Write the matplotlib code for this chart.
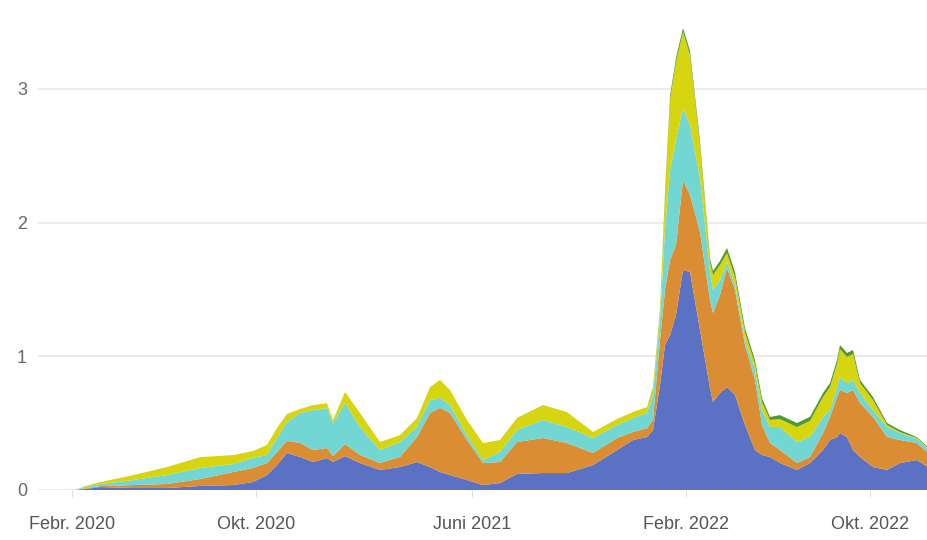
import matplotlib
matplotlib.use("Agg")
import matplotlib.pyplot as plt

# x positions along the time axis (chart units)
t = [40, 75, 85, 100, 133, 167, 200, 233, 253, 267, 277, 287, 300, 313, 327, 333, 345,
     360, 380, 400, 417, 430, 440, 450, 467, 483, 500, 517, 543, 567, 593, 617, 633,
     647, 653, 660, 665, 670, 676, 683, 690, 700, 710, 713, 720, 727, 735, 745, 755,
     762, 770, 780, 797, 810, 823, 830, 837, 840, 847, 853, 860, 873, 887, 900, 917, 928]

blue = [0, 0, 0.007, 0.022, 0.015, 0.015, 0.030, 0.037, 0.060, 0.112, 0.187, 0.277, 0.247,
        0.209, 0.239, 0.209, 0.254, 0.202, 0.150, 0.172, 0.209, 0.172, 0.135, 0.112, 0.075,
        0.037, 0.052, 0.120, 0.127, 0.127, 0.187, 0.299, 0.374, 0.396, 0.449, 0.785, 1.085,
        1.159, 1.309, 1.645, 1.631, 1.197, 0.763, 0.658, 0.726, 0.770, 0.711, 0.486, 0.299,
        0.262, 0.247, 0.202, 0.150, 0.202, 0.299, 0.374, 0.396, 0.426, 0.396, 0.299, 0.247,
        0.172, 0.150, 0.202, 0.224, 0.172]
orange = [0, 0, 0.004, 0.007, 0.022, 0.030, 0.052, 0.097, 0.105, 0.090, 0.097, 0.090, 0.105,
          0.090, 0.075, 0.045, 0.090, 0.060, 0.052, 0.075, 0.187, 0.404, 0.479, 0.464, 0.299,
          0.165, 0.157, 0.239, 0.262, 0.224, 0.090, 0.090, 0.060, 0.067, 0.075, 0.337, 0.411,
          0.561, 0.524, 0.673, 0.576, 0.733, 0.658, 0.666, 0.733, 0.890, 0.785, 0.598, 0.524,
          0.224, 0.105, 0.097, 0.052, 0.045, 0.127, 0.172, 0.299, 0.322, 0.329, 0.449, 0.404,
          0.374, 0.247, 0.172, 0.127, 0.105]
cyan = [0, 0, 0.011, 0.015, 0.037, 0.067, 0.082, 0.060, 0.075, 0.060, 0.105, 0.142, 0.224,
        0.299, 0.299, 0.247, 0.307, 0.209, 0.097, 0.112, 0.075, 0.097, 0.075, 0.060, 0.037,
        0.022, 0.075, 0.090, 0.135, 0.120, 0.112, 0.097, 0.105, 0.112, 0.187, 0.150, 0.449,
        0.673, 0.785, 0.539, 0.524, 0.404, 0.209, 0.172, 0.112, 0.045, 0.037, 0.037, 0.075,
        0.112, 0.120, 0.172, 0.157, 0.150, 0.120, 0.052, 0.075, 0.097, 0.075, 0.075, 0.075,
        0.052, 0.075, 0.052, 0.030, 0.030]
yellow = [0, 0, 0.007, 0.015, 0.037, 0.060, 0.082, 0.067, 0.052, 0.075, 0.075, 0.060, 0.030,
          0.037, 0.037, 0.022, 0.082, 0.105, 0.060, 0.052, 0.067, 0.097, 0.135, 0.112, 0.112,
          0.127, 0.090, 0.090, 0.112, 0.112, 0.045, 0.045, 0.045, 0.045, 0.052, 0.060, 0.262,
          0.524, 0.583, 0.568, 0.524, 0.247, 0.075, 0.112, 0.112, 0.068, 0.060, 0.059, 0.044,
          0.059, 0.052, 0.059, 0.112, 0.120, 0.149, 0.172, 0.172, 0.209, 0.195, 0.195, 0.075,
          0.075, 0.015, 0.007, 0.007, 0.007]
green = [0, 0, 0, 0, 0, 0, 0, 0, 0, 0, 0, 0, 0, 0, 0, 0, 0, 0, 0, 0, 0, 0, 0, 0, 0, 0, 0, 0,
         0, 0, 0, 0, 0, 0, 0.007, 0.015, 0.022, 0.030, 0.030, 0.030, 0.030, 0.030, 0.030,
         0.030, 0.030, 0.037, 0.037, 0.030, 0.030, 0.030, 0.022, 0.030, 0.030, 0.030, 0.030,
         0.030, 0.030, 0.030, 0.030, 0.030, 0.022, 0.022, 0.015, 0.015, 0.007, 0.007]

colors = ["#5B72C4", "#DA8D33", "#72D6D2", "#D7D510", "#4F9A2E"]

tick_pos = [72, 256, 472, 686, 870]
tick_labels = ["Febr. 2020", "Okt. 2020", "Juni 2021", "Febr. 2022", "Okt. 2022"]
y_ticks = [0, 1, 2, 3]

plt.rcParams["font.family"] = ["Liberation Sans", "DejaVu Sans"]

fig = plt.figure(figsize=(9.28, 5.40), dpi=100)
ax = fig.add_axes([38 / 928, 50 / 540, 890 / 928, 490 / 540])

ax.stackplot(t, blue, orange, cyan, yellow, green, colors=colors, linewidth=0, zorder=3)

ax.set_xlim(38, 928)
ax.set_ylim(0, 3.665)
ax.set_yticks(y_ticks)
ax.set_yticklabels([str(v) for v in y_ticks])
ax.set_xticks(tick_pos)
ax.set_xticklabels(tick_labels)
ax.grid(axis="y", color="#e8e8e8", linewidth=1.2, zorder=0)
ax.axhline(0, color="#d0d0d0", linewidth=1, zorder=1)

for s in ax.spines.values():
    s.set_visible(False)
ax.tick_params(axis="y", length=0, pad=8, labelsize=13, labelcolor="#6a6a6a")
ax.tick_params(axis="x", length=5, width=0.8, color="#dddddd", pad=14,
               labelsize=13, labelcolor="#555555")

fig.savefig("out.png", dpi=100)
